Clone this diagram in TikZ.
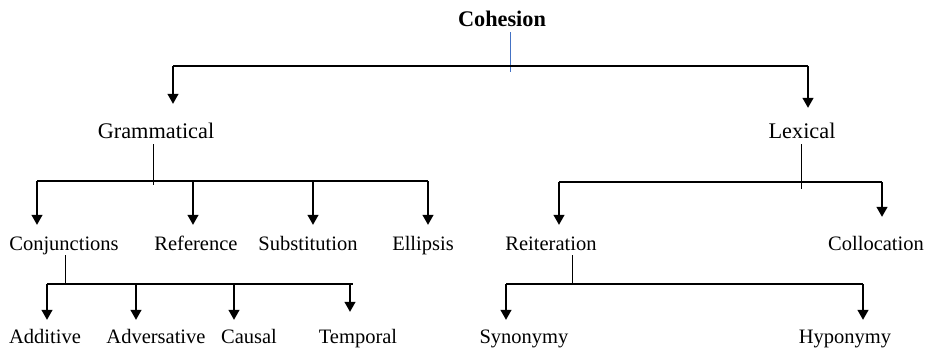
\documentclass[tikz,border=0pt]{standalone}
\usepackage{fontspec}
\setmainfont{Liberation Serif}
\usetikzlibrary{arrows.meta}
\definecolor{stemblue}{RGB}{68,114,196}
\begin{document}
\begin{tikzpicture}[x=1pt,y=-1pt]
\tikzstyle{word}=[font=\fontsize{20.5}{24}\selectfont, anchor=base, inner sep=1pt, text height=14pt, text depth=4pt]
\tikzstyle{big}=[word, font=\fontsize{22.3}{26}\selectfont]
\tikzstyle{head}=[word, font=\fontsize{22.3}{26}\selectfont\bfseries]
\tikzstyle{bus}=[line width=1.1pt]
\tikzstyle{stem}=[line width=0.8pt]
\tikzstyle{arr}=[line width=1.3pt, -{Triangle[width=11pt,length=10pt]}, shorten >=10pt]

\useasboundingbox (0,0) rectangle (929,350);

% labels
\node[head] (coh) at (502,27) {Cohesion};
\node[big] (gram) at (156,139) {Grammatical};
\node[big] (lex) at (802,139) {Lexical};
\node[word] (conj) at (64,250) {Conjunctions};
\node[word] (ref) at (196,250) {Reference};
\node[word] (subst) at (308,250) {Substitution};
\node[word] (ellip) at (423,250) {Ellipsis};
\node[word] (reit) at (551,250) {Reiteration};
\node[word] (coll) at (876,250) {Collocation};
\node[word] (add) at (45,343) {Additive};
\node[word] (adv) at (156,343) {Adversative};
\node[word] (caus) at (249,343) {Causal};
\node[word] (temp) at (358,343) {Temporal};
\node[word] (syn) at (524,343) {Synonymy};
\node[word] (hyp) at (845,343) {Hyponymy};

% cohesion
\coordinate (tstem) at (510,72);
\coordinate (t1) at (173,66);
\coordinate (t2) at (808,66);
\draw[stemblue, stem] (coh.south -| tstem) -- (tstem);
\draw[bus] (t1) -- (t2);
\draw[arr, shorten >=20pt] (t1) -- (t1 |- gram.north);
\draw[arr, shorten >=16pt] (t2) -- (t2 |- lex.north);

% grammatical
\coordinate (gstem) at (153,185);
\coordinate (g1) at (37,181);
\coordinate (g2) at (193,181);
\coordinate (g3) at (313,181);
\coordinate (g4) at (428,181);
\draw[stem] (gram.south -| gstem) -- (gstem);
\draw[bus] (g1) -- (g4);
\draw[arr] (g1) -- (g1 |- conj.north);
\draw[arr] (g2) -- (g2 |- ref.north);
\draw[arr] (g3) -- (g3 |- subst.north);
\draw[arr] (g4) -- (g4 |- ellip.north);

% lexical
\coordinate (lstem) at (801,189);
\coordinate (l1) at (559,182);
\coordinate (l2) at (882,182);
\draw[stem] (lex.south -| lstem) -- (lstem);
\draw[bus] (l1) -- (l2);
\draw[arr] (l1) -- (l1 |- reit.north);
\draw[arr, shorten >=18pt] (l2) -- (l2 |- coll.north);

% conjunctions
\coordinate (cstem) at (65,284);
\coordinate (c1) at (47,284);
\coordinate (c2) at (136,284);
\coordinate (c3) at (234,284);
\coordinate (c4) at (350,284);
\draw[stem] (conj.south -| cstem) -- (cstem);
\draw[bus] (c1) -- ([xshift=3pt]c4);
\draw[arr, shorten >=8pt] (c1) -- (c1 |- add.north);
\draw[arr, shorten >=8pt] (c2) -- (c2 |- adv.north);
\draw[arr, shorten >=8pt] (c3) -- (c3 |- caus.north);
\draw[arr, shorten >=16pt] (c4) -- (c4 |- temp.north);

% reiteration
\coordinate (rstem) at (572,284);
\coordinate (r1) at (506,284);
\coordinate (r2) at (863,284);
\draw[stem] (reit.south -| rstem) -- (rstem);
\draw[bus] (r1) -- (r2);
\draw[arr, shorten >=8pt] (r1) -- (r1 |- syn.north);
\draw[arr, shorten >=8pt] (r2) -- (r2 |- hyp.north);

\end{tikzpicture}
\end{document}
